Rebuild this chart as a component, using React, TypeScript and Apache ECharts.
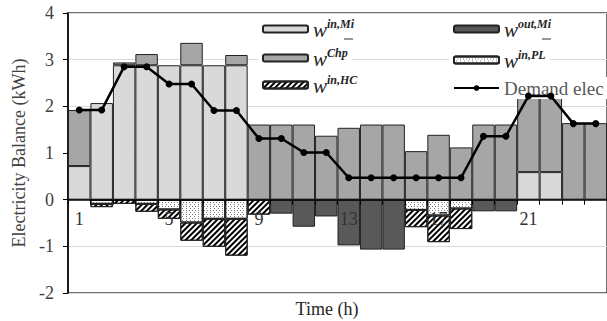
import React, { useEffect, useRef } from "react";
import * as echarts from "echarts";

const hours = ["1","2","3","4","5","6","7","8","9","10","11","12","13","14","15","16","17","18","19","20","21","22","23","24"];
const wInMi = [0.72, 2.07, 2.88, 2.88, 2.88, 2.88, 2.88, 2.88, 0, 0, 0, 0, 0, 0, 0, 0, 0, 0, 0, 0, 0.59, 0.59, 0, 0];
const wChp = [1.2, 0, 0.06, 0.24, 0, 0.48, 0, 0.22, 1.61, 1.61, 1.61, 1.37, 1.54, 1.61, 1.61, 1.04, 1.39, 1.12, 1.61, 1.61, 1.61, 1.61, 1.64, 1.64];
const wOutMi = [0, 0, 0, 0, 0, 0, 0, 0, 0, -0.3, -0.58, -0.36, -0.98, -1.07, -1.07, 0, 0, 0, -0.25, -0.25, 0, 0, 0, 0];
const wInPL = [0, -0.09, 0, -0.09, -0.21, -0.49, -0.41, -0.41, 0, 0, 0, 0, 0, 0, 0, -0.22, -0.34, -0.19, 0, 0, 0, 0, 0, 0];
const wInHC = [0, -0.07, -0.09, -0.17, -0.2, -0.39, -0.6, -0.79, -0.32, 0, 0, 0, 0, 0, 0, -0.37, -0.57, -0.44, 0, 0, 0, 0, 0, 0];
const demandElec = [1.92, 1.92, 2.85, 2.85, 2.48, 2.48, 1.91, 1.91, 1.31, 1.31, 1.01, 1.01, 0.47, 0.47, 0.47, 0.47, 0.47, 0.47, 1.36, 1.36, 2.22, 2.22, 1.63, 1.63];
const yTicks = { min: -2, max: 4, interval: 1 };

const SERIF = '"Liberation Serif", "Times New Roman", serif';

const legendNames: Record<string, string> = {
  inMi: "{w|w}{s|in,Mi}",
  outMi: "{w|w}{s|out,Mi}",
  chp: "{w|w}{s|Chp}",
  inPL: "{w|w}{s|in,PL}",
  inHC: "{w|w}{s|in,HC}",
};

const rich = {
  w: { fontFamily: SERIF, fontStyle: "italic", fontSize: 21, lineHeight: 22, verticalAlign: "bottom", color: "#262626" },
  s: { fontFamily: SERIF, fontStyle: "italic", fontWeight: "bold", fontSize: 12, lineHeight: 15, verticalAlign: "top", color: "#262626" },
};

const nz = (arr: number[]) => arr.map((v) => (v === 0 ? "-" : v));

const GRID = { left: 68, right: -1, top: 13, bottom: 28 };
const H = 321;

export default function App() {
  const ref = useRef<HTMLDivElement>(null);
  useEffect(() => {
    if (!ref.current) return;
    const chart = echarts.init(ref.current, null, { renderer: "svg" });
    const mkLegend = (name: string, left: number, top: number) => ({
      data: [name],
      left,
      top,
      orient: "horizontal",
      itemWidth: 45,
      itemHeight: 7,
      padding: [0, 4],
      backgroundColor: "#fff",
      selectedMode: false,
      formatter: (n: string) => legendNames[n] || n,
      textStyle: {
        fontFamily: SERIF,
        fontSize: 19,
        color: "#595959",
        lineHeight: 22,
        rich,
      },
    });
    const barBorder = { borderColor: "#222", borderWidth: 1 };
    chart.setOption({
      animation: false,
      grid: { ...GRID, show: true, borderColor: "#404040", borderWidth: 1.5, backgroundColor: "transparent" },
      legend: [
        mkLegend("inMi", 258, 18),
        mkLegend("outMi", 449, 18),
        mkLegend("chp", 258, 47),
        mkLegend("inPL", 449, 49),
        mkLegend("inHC", 258, 74),
        mkLegend("Demand elec", 449, 77),
      ],
      xAxis: {
        type: "category",
        data: hours,
        position: "bottom",
        offset: 0,
        z: 10,
        axisLine: { show: true, onZero: false, lineStyle: { color: "#000", width: 1.5 } },
        axisTick: { show: true, interval: 0, length: 5, lineStyle: { color: "#000" } },
        axisLabel: { interval: 3, margin: 10, fontFamily: SERIF, fontSize: 18, color: "#333" },
        splitLine: { show: false },
      },
      yAxis: {
        type: "value",
        min: yTicks.min,
        max: yTicks.max,
        interval: yTicks.interval,
        name: "Electricity Balance (kWh)",
        nameLocation: "middle",
        nameGap: 38,
        nameTextStyle: { fontFamily: SERIF, fontSize: 18, color: "#404040" },
        axisLine: { show: true, onZero: false, lineStyle: { color: "#000", width: 1.5 } },
        axisTick: { show: true, length: 5, lineStyle: { color: "#000" } },
        axisLabel: { margin: 14, fontFamily: SERIF, fontSize: 18, color: "#404040" },
        splitLine: { show: true, lineStyle: { color: "#d9d9d9", width: 1 } },
      },
      series: [
        {
          name: "inMi", type: "bar", stack: "a", barCategoryGap: "0%", data: nz(wInMi),
          itemStyle: { color: "#d9d9d9", ...barBorder },
        },
        {
          name: "chp", type: "bar", stack: "a", barCategoryGap: "0%", data: nz(wChp),
          itemStyle: { color: "#a6a6a6", ...barBorder },
        },
        {
          name: "outMi", type: "bar", stack: "a", barCategoryGap: "0%", data: nz(wOutMi),
          itemStyle: { color: "#595959", ...barBorder },
        },
        {
          name: "inPL", type: "bar", stack: "a", barCategoryGap: "0%", data: nz(wInPL),
          itemStyle: {
            color: "#ffffff", ...barBorder,
            decal: {
              symbol: "rect", symbolSize: 1, color: "#7f7f7f", backgroundColor: "#ffffff",
              dashArrayX: [[1, 2], [0, 1.5, 1, 0.5]], dashArrayY: [1, 1], rotation: 0,
            },
          },
        },
        {
          name: "inHC", type: "bar", stack: "a", barCategoryGap: "0%", data: nz(wInHC),
          itemStyle: {
            color: "#ffffff", ...barBorder,
            decal: {
              symbol: "rect", symbolSize: 1, color: "#000000", backgroundColor: "#ffffff",
              dashArrayX: [1, 0], dashArrayY: [2, 2], rotation: -Math.PI / 4,
            },
          },
        },
        {
          name: "Demand elec", type: "line", data: demandElec,
          symbol: "circle", symbolSize: 7, z: 5,
          lineStyle: { color: "#000", width: 2.5 },
          itemStyle: { color: "#000" },
        },
      ],
      graphic: [
        { type: "line", z: 100, shape: { x1: 344, y1: 39, x2: 353, y2: 39 }, style: { stroke: "#333", lineWidth: 1 } },
        { type: "line", z: 100, shape: { x1: 542, y1: 39, x2: 551, y2: 39 }, style: { stroke: "#333", lineWidth: 1 } },
        {
          type: "text", z: 100, x: 327, y: 309,
          style: { text: "Time (h)", align: "center", verticalAlign: "middle", fontFamily: SERIF, fontSize: 18, fill: "#262626" },
        },
      ],
    });
    // place the category axis on the value-axis zero line, using the library's scale
    const zeroY = chart.convertToPixel({ yAxisIndex: 0 }, 0) as number;
    const bottomY = H - GRID.bottom;
    chart.setOption({ xAxis: { offset: -(bottomY - zeroY) } });
    return () => chart.dispose();
  }, []);
  return <div ref={ref} style={{ position: "fixed", left: 0, top: 0, width: 607, height: 321, background: "#fff" }} />;
}
